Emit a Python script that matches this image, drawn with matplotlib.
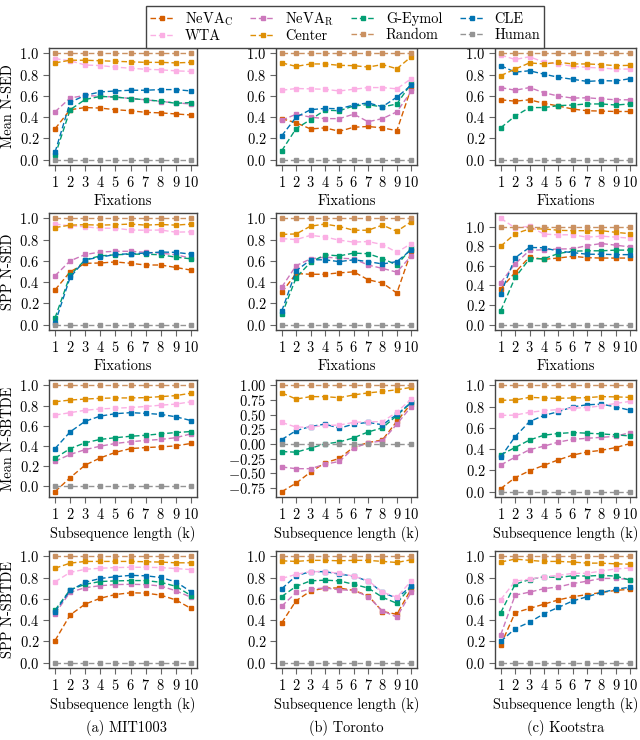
import matplotlib
matplotlib.use("Agg")
import matplotlib.pyplot as plt
from matplotlib.ticker import FuncFormatter

# --- fonts: LaTeX-like look ---
plt.rcParams['font.family'] = 'serif'
plt.rcParams['font.serif'] = ['cmr10']
plt.rcParams['mathtext.fontset'] = 'cm'
plt.rcParams['axes.formatter.use_mathtext'] = True
FS = 10.4
plt.rcParams['font.size'] = FS

# --- DATA ---
steps = [1, 2, 3, 4, 5, 6, 7, 8, 9, 10]
methods = ['NeVA_C', 'NeVA_R', 'G-Eymol', 'CLE', 'WTA', 'Center', 'Random', 'Human']
labels = [r'NeVA$_\mathrm{C}$', r'NeVA$_\mathrm{R}$', 'G-Eymol', 'CLE',
          'WTA', 'Center', 'Random', 'Human']
random_line = [1.0, 1.0, 1.0, 1.0, 1.0, 1.0, 1.0, 1.0, 1.0, 1.0]
human_line = [0.0, 0.0, 0.0, 0.0, 0.0, 0.0, 0.0, 0.0, 0.0, 0.0]

# Mean N-SED
mean_sed_mit = {
    'NeVA_C': [0.29, 0.47, 0.49, 0.485, 0.47, 0.46, 0.445, 0.44, 0.43, 0.42],
    'NeVA_R': [0.45, 0.58, 0.605, 0.595, 0.59, 0.575, 0.563, 0.547, 0.534, 0.524],
    'G-Eymol': [0.04, 0.47, 0.566, 0.595, 0.588, 0.575, 0.563, 0.55, 0.53, 0.537],
    'CLE': [0.07, 0.54, 0.605, 0.637, 0.646, 0.653, 0.653, 0.659, 0.659, 0.646],
    'WTA': [0.95, 0.93, 0.89, 0.885, 0.87, 0.86, 0.85, 0.845, 0.835, 0.83],
    'Center': [0.91, 0.935, 0.935, 0.93, 0.925, 0.92, 0.915, 0.915, 0.91, 0.915],
}
mean_sed_tor = {
    'NeVA_C': [0.386, 0.347, 0.289, 0.299, 0.267, 0.305, 0.312, 0.299, 0.273, 0.675],
    'NeVA_R': [0.37, 0.428, 0.40, 0.386, 0.386, 0.428, 0.357, 0.386, 0.45, 0.643],
    'G-Eymol': [0.084, 0.293, 0.376, 0.466, 0.46, 0.505, 0.518, 0.495, 0.524, 0.717],
    'CLE': [0.225, 0.40, 0.47, 0.482, 0.479, 0.514, 0.534, 0.498, 0.588, 0.70],
    'WTA': [0.653, 0.669, 0.666, 0.662, 0.646, 0.662, 0.678, 0.678, 0.666, 0.762],
    'Center': [0.91, 0.877, 0.90, 0.90, 0.887, 0.884, 0.871, 0.894, 0.855, 0.968],
}
mean_sed_koo = {
    'NeVA_C': [0.563, 0.55, 0.563, 0.53, 0.505, 0.476, 0.46, 0.457, 0.453, 0.453],
    'NeVA_R': [0.678, 0.653, 0.678, 0.63, 0.598, 0.579, 0.582, 0.572, 0.563, 0.563],
    'G-Eymol': [0.30, 0.41, 0.49, 0.49, 0.508, 0.514, 0.524, 0.524, 0.514, 0.524],
    'CLE': [0.884, 0.823, 0.836, 0.804, 0.775, 0.756, 0.736, 0.743, 0.74, 0.762],
    'WTA': [0.984, 0.942, 0.968, 0.916, 0.90, 0.878, 0.868, 0.862, 0.852, 0.852],
    'Center': [0.79, 0.852, 0.91, 0.90, 0.916, 0.90, 0.90, 0.894, 0.884, 0.887],
}

# SPP N-SED
spp_sed_mit = {
    'NeVA_C': [0.327, 0.497, 0.577, 0.58, 0.59, 0.577, 0.561, 0.561, 0.538, 0.513],
    'NeVA_R': [0.46, 0.60, 0.66, 0.683, 0.69, 0.69, 0.68, 0.673, 0.657, 0.625],
    'G-Eymol': [0.064, 0.465, 0.61, 0.647, 0.657, 0.663, 0.663, 0.657, 0.635, 0.619],
    'CLE': [0.016, 0.445, 0.61, 0.635, 0.66, 0.667, 0.673, 0.683, 0.68, 0.663],
    'WTA': [0.946, 0.93, 0.92, 0.907, 0.907, 0.89, 0.888, 0.89, 0.87, 0.873],
    'Center': [0.913, 0.936, 0.94, 0.936, 0.94, 0.946, 0.936, 0.942, 0.936, 0.946],
}
spp_sed_tor = {
    'NeVA_C': [0.304, 0.481, 0.474, 0.474, 0.487, 0.497, 0.423, 0.391, 0.298, 0.689],
    'NeVA_R': [0.353, 0.555, 0.619, 0.635, 0.625, 0.619, 0.561, 0.529, 0.494, 0.647],
    'G-Eymol': [0.096, 0.442, 0.587, 0.657, 0.647, 0.673, 0.667, 0.622, 0.561, 0.718],
    'CLE': [0.128, 0.506, 0.61, 0.61, 0.593, 0.61, 0.593, 0.571, 0.593, 0.705],
    'WTA': [0.81, 0.80, 0.84, 0.824, 0.795, 0.776, 0.782, 0.753, 0.68, 0.763],
    'Center': [0.849, 0.853, 0.926, 0.946, 0.923, 0.888, 0.888, 0.936, 0.878, 0.968],
}
spp_sed_koo = {
    'NeVA_C': [0.366, 0.533, 0.69, 0.666, 0.679, 0.697, 0.683, 0.679, 0.679, 0.679],
    'NeVA_R': [0.429, 0.62, 0.757, 0.764, 0.771, 0.774, 0.806, 0.827, 0.81, 0.792],
    'G-Eymol': [0.143, 0.481, 0.672, 0.672, 0.725, 0.749, 0.753, 0.753, 0.76, 0.76],
    'CLE': [0.317, 0.683, 0.787, 0.784, 0.749, 0.735, 0.718, 0.718, 0.714, 0.714],
    'WTA': [1.084, 0.986, 1.003, 0.923, 0.916, 0.916, 0.892, 0.902, 0.892, 0.882],
    'Center': [0.80, 0.927, 0.976, 0.976, 0.962, 0.958, 0.958, 0.958, 0.941, 0.927],
}

# Mean N-SBTDE
mean_sbtde_mit = {
    'NeVA_C': [-0.054, 0.085, 0.21, 0.281, 0.336, 0.373, 0.383, 0.39, 0.40, 0.424],
    'NeVA_R': [0.247, 0.315, 0.363, 0.397, 0.424, 0.441, 0.454, 0.464, 0.481, 0.519],
    'G-Eymol': [0.278, 0.373, 0.431, 0.464, 0.481, 0.495, 0.505, 0.519, 0.532, 0.542],
    'CLE': [0.373, 0.539, 0.644, 0.695, 0.719, 0.729, 0.722, 0.712, 0.688, 0.651],
    'WTA': [0.705, 0.729, 0.753, 0.766, 0.773, 0.78, 0.79, 0.803, 0.814, 0.837],
    'Center': [0.837, 0.854, 0.864, 0.871, 0.875, 0.875, 0.878, 0.888, 0.898, 0.922],
}
mean_sbtde_tor = {
    'NeVA_C': [-0.813, -0.667, -0.48, -0.322, -0.246, -0.053, 0.023, 0.07, 0.386, 0.69],
    'NeVA_R': [-0.392, -0.421, -0.421, -0.345, -0.298, -0.07, 0.018, 0.053, 0.339, 0.637],
    'G-Eymol': [-0.129, -0.14, -0.07, 0.0, 0.035, 0.105, 0.205, 0.275, 0.485, 0.708],
    'CLE': [0.076, 0.228, 0.298, 0.339, 0.269, 0.339, 0.368, 0.327, 0.503, 0.708],
    'WTA': [0.368, 0.287, 0.287, 0.316, 0.322, 0.368, 0.38, 0.38, 0.544, 0.766],
    'Center': [0.871, 0.766, 0.807, 0.807, 0.789, 0.836, 0.871, 0.895, 0.924, 0.965],
}
mean_sbtde_koo = {
    'NeVA_C': [0.029, 0.132, 0.196, 0.248, 0.299, 0.344, 0.373, 0.389, 0.415, 0.453],
    'NeVA_R': [0.251, 0.325, 0.395, 0.428, 0.466, 0.492, 0.502, 0.511, 0.521, 0.556],
    'G-Eymol': [0.347, 0.415, 0.486, 0.531, 0.547, 0.556, 0.55, 0.543, 0.534, 0.524],
    'CLE': [0.325, 0.518, 0.659, 0.717, 0.752, 0.797, 0.817, 0.823, 0.797, 0.765],
    'WTA': [0.717, 0.72, 0.746, 0.762, 0.772, 0.785, 0.791, 0.807, 0.83, 0.849],
    'Center': [0.859, 0.862, 0.887, 0.881, 0.878, 0.881, 0.884, 0.894, 0.891, 0.887],
}

# SPP N-SBTDE
spp_sbtde_mit = {
    'NeVA_C': [0.208, 0.449, 0.551, 0.606, 0.641, 0.657, 0.654, 0.635, 0.59, 0.51],
    'NeVA_R': [0.462, 0.663, 0.705, 0.724, 0.734, 0.737, 0.734, 0.721, 0.676, 0.615],
    'G-Eymol': [0.494, 0.686, 0.737, 0.763, 0.769, 0.772, 0.772, 0.756, 0.718, 0.631],
    'CLE': [0.481, 0.679, 0.756, 0.792, 0.808, 0.821, 0.817, 0.801, 0.76, 0.667],
    'WTA': [0.76, 0.849, 0.878, 0.888, 0.894, 0.897, 0.897, 0.894, 0.885, 0.875],
    'Center': [0.888, 0.936, 0.952, 0.952, 0.952, 0.952, 0.949, 0.946, 0.939, 0.939],
}
spp_sbtde_tor = {
    'NeVA_C': [0.375, 0.583, 0.673, 0.702, 0.702, 0.679, 0.631, 0.481, 0.455, 0.695],
    'NeVA_R': [0.532, 0.66, 0.692, 0.702, 0.686, 0.679, 0.622, 0.487, 0.429, 0.663],
    'G-Eymol': [0.622, 0.718, 0.769, 0.776, 0.769, 0.737, 0.702, 0.615, 0.558, 0.718],
    'CLE': [0.695, 0.817, 0.856, 0.856, 0.833, 0.814, 0.766, 0.66, 0.606, 0.721],
    'WTA': [0.792, 0.83, 0.856, 0.856, 0.84, 0.814, 0.772, 0.663, 0.615, 0.769],
    'Center': [0.958, 0.952, 0.962, 0.962, 0.958, 0.962, 0.962, 0.952, 0.942, 0.968],
}
spp_sbtde_koo = {
    'NeVA_C': [0.167, 0.47, 0.51, 0.55, 0.59, 0.62, 0.64, 0.66, 0.68, 0.69],
    'NeVA_R': [0.263, 0.635, 0.663, 0.696, 0.712, 0.744, 0.766, 0.792, 0.792, 0.782],
    'G-Eymol': [0.471, 0.737, 0.782, 0.808, 0.801, 0.817, 0.814, 0.821, 0.814, 0.776],
    'CLE': [0.20, 0.32, 0.38, 0.46, 0.52, 0.58, 0.62, 0.66, 0.69, 0.71],
    'WTA': [0.593, 0.766, 0.785, 0.808, 0.821, 0.84, 0.84, 0.862, 0.881, 0.891],
    'Center': [0.946, 0.974, 0.962, 0.952, 0.952, 0.946, 0.936, 0.936, 0.929, 0.926],
}

rows = [
    ('Mean N-SED', 'Fixations', [mean_sed_mit, mean_sed_tor, mean_sed_koo]),
    ('SPP N-SED', 'Fixations', [spp_sed_mit, spp_sed_tor, spp_sed_koo]),
    ('Mean N-SBTDE', 'Subsequence length (k)', [mean_sbtde_mit, mean_sbtde_tor, mean_sbtde_koo]),
    ('SPP N-SBTDE', 'Subsequence length (k)', [spp_sbtde_mit, spp_sbtde_tor, spp_sbtde_koo]),
]
captions = ['(a) MIT1003', '(b) Toronto', '(c) Kootstra']

colors = {
    'NeVA_C': '#d55e00', 'NeVA_R': '#cc78bc', 'G-Eymol': '#029e73', 'CLE': '#0173b2',
    'WTA': '#fbafe4', 'Center': '#de8f05', 'Random': '#ca9161', 'Human': '#949494',
}

# --- LAYOUT (pixels -> figure fractions) ---
W, H = 640, 740
col_x = [(49, 148), (276, 141), (495, 141)]
row_y = [(48, 117), (213, 117), (380, 117), (551, 117)]

fmt1 = FuncFormatter(lambda v, p: f'${v:.1f}$')
fmt2 = FuncFormatter(lambda v, p: f'${v:.2f}$')

fig = plt.figure(figsize=(6.4, 7.4), dpi=100)
handles = {}
for r, (ylab, xlab, panels) in enumerate(rows):
    top, h = row_y[r]
    for c, data in enumerate(panels):
        left, w = col_x[c]
        ax = fig.add_axes([left / W, 1 - (top + h) / H, w / W, h / H])
        series = dict(data)
        series['Random'] = random_line
        series['Human'] = human_line
        for m in methods:
            ln, = ax.plot(steps, series[m], color=colors[m], linestyle='--',
                          dashes=(4, 2), linewidth=1.0, marker='s', markersize=3)
            handles[m] = ln
        ax.set_xticks(steps)
        ax.set_xlim(0.6, 10.4)
        if r == 2 and c == 1:
            ax.set_yticks([-0.75, -0.5, -0.25, 0.0, 0.25, 0.5, 0.75, 1.0])
            ax.yaxis.set_major_formatter(fmt2)
        else:
            ax.set_yticks([0.0, 0.2, 0.4, 0.6, 0.8, 1.0])
            ax.yaxis.set_major_formatter(fmt1)
        ax.set_xlabel(xlab, labelpad=3)
        if c == 0:
            ax.set_ylabel(ylab, labelpad=3)
        for s in ax.spines.values():
            s.set_color('#444444')
            s.set_linewidth(1.0)
        ax.tick_params(direction='out', length=4, width=0.8, color='#666666',
                       pad=3, labelsize=FS)

for c, txt in enumerate(captions):
    xc = [127, 346, 566][c]
    fig.text(xc / W, 1 - 728 / H, txt, ha='center', va='center', fontsize=FS)

order = ['NeVA_C', 'WTA', 'NeVA_R', 'Center', 'G-Eymol', 'Random', 'CLE', 'Human']
fig.legend([handles[m] for m in order], [labels[methods.index(m)] for m in order],
           ncol=4, loc='upper center', bbox_to_anchor=(345 / W, 1.002),
           fancybox=False, edgecolor='#444444', framealpha=1, fontsize=FS,
           handlelength=1.7, columnspacing=1.2, handletextpad=0.7,
           borderpad=0.3, labelspacing=0.15)

fig.savefig('out.png', dpi=100)
